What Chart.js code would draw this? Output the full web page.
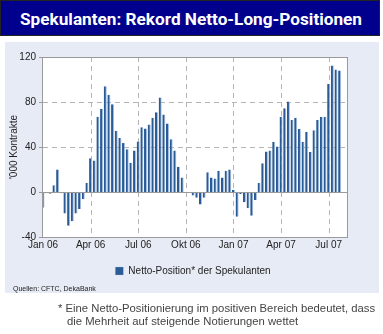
<!DOCTYPE html>
<html>
<head>
<meta charset="utf-8">
<script src="https://cdn.jsdelivr.net/npm/chart.js@4"></script>
<style>
  html, body { margin: 0; padding: 0; background: #fff; }
  #wrap { position: relative; width: 383px; height: 334px; overflow: hidden; font-family: "Liberation Sans", Arial, sans-serif; }
  #title {
    position: absolute; left: 0; top: 0; width: 380px; height: 36px;
    background: #00008c; border: 1px solid #222;
    color: #fff; font: bold 17.2px "Roboto", "Liberation Sans", sans-serif;
    line-height: 36px; padding-left: 19px; box-sizing: border-box; white-space: nowrap;
  }
  #panel { position: absolute; left: 5px; top: 42px; width: 374px; height: 251px; background: #e7ebf5; }
  #chartBox { position: absolute; left: 0; top: 0; width: 374px; height: 244px; }
  #source { position: absolute; left: 8px; top: 243px; font-size: 7px; color: #222; }
  #note {
    position: absolute; left: 58px; top: 302px; width: 325px;
    font-size: 11.3px; line-height: 13px; color: #444;
    padding-left: 9px; text-indent: -9px; white-space: nowrap;
  }
</style>
</head>
<body>
<div id="wrap">
  <div id="title">Spekulanten: Rekord Netto-Long-Positionen</div>
  <div id="panel">
    <div id="chartBox"><canvas id="chart"></canvas></div>
    <div id="source">Quellen: CFTC, DekaBank</div>
  </div>
  <div id="note">* Eine Netto-Positionierung im positiven Bereich bedeutet, dass<br>die Mehrheit auf steigende Notierungen wettet</div>
</div>
<script>
// weekly net positions, '000 contracts (Jan 06 .. Jul 07)
const netPositions = [
  -14, -1, -1.5, 6, 20, -1, -19, -30, -26, -19, -15, -6.5, 8,
  30, 28, 67, 74, 94, 86.5, 78, 54.5, 48, 43.5, 38, 26, 37,
  45, 57.5, 56.5, 60, 66, 71, 84, 69, 61, 47, 37, 22.5, 13,
  0, 0, -3, -5, -11, -5, 17.5, 13, 12, 19, 13, 19, 20,
  2, -22, -2, -9, -14.5, -21, -7, 8, 25.5, 36, 37, 44.5, 40.5,
  67, 74.5, 80.5, 64, 66, 56, 44.5, 53.5, 35.5, 55, 64, 67, 67,
  96, 112.5, 109, 108, null, null,
];

const tickLabels = ["Jan 06", "Apr 06", "Jul 06", "Okt 06", "Jan 07", "Apr 07", "Jul 07"];
const weeksPerTick = 13;
const yTicks = [-40, 0, 40, 80, 120];

const weeks = netPositions.map((v, i) =>
  i % weeksPerTick === 0 ? tickLabels[i / weeksPerTick] : "W" + i
);

const gridLines = {
  id: "gridLines",
  beforeDatasetsDraw(chart) {
    const { ctx, chartArea: a, scales } = chart;
    ctx.save();
    ctx.strokeStyle = "#b4b4b4";
    ctx.lineWidth = 1;
    ctx.setLineDash([5, 4]);
    [40, 80].forEach((v) => {
      const y = Math.round(scales.y.getPixelForValue(v)) + 0.5;
      ctx.beginPath(); ctx.moveTo(a.left, y); ctx.lineTo(a.right, y); ctx.stroke();
    });
    weeks.forEach((w, i) => {
      if (i === 0 || i % weeksPerTick !== 0) return;
      const x = Math.round(scales.x.getPixelForValue(i)) + 0.5;
      ctx.beginPath(); ctx.moveTo(x, a.top); ctx.lineTo(x, a.bottom); ctx.stroke();
    });
    ctx.restore();
  },
  afterDatasetsDraw(chart) {
    const { ctx, chartArea: a, scales } = chart;
    ctx.save();
    ctx.strokeStyle = "#9a9a9a";
    ctx.lineWidth = 1;
    const y0 = Math.round(scales.y.getPixelForValue(0)) + 0.5;
    ctx.beginPath(); ctx.moveTo(a.left, y0); ctx.lineTo(a.right, y0); ctx.stroke();
    // plot frame
    ctx.strokeRect(Math.round(a.left) - 0.5, Math.round(a.top) + 0.5,
      Math.round(a.right - a.left) + 1, Math.round(a.bottom - a.top));
    // small ticks on the value axis
    yTicks.forEach((v) => {
      const y = Math.round(scales.y.getPixelForValue(v)) + 0.5;
      ctx.beginPath(); ctx.moveTo(a.left - 4, y); ctx.lineTo(a.left, y); ctx.stroke();
    });
    ctx.restore();
  },
};

const whiteArea = {
  id: "whiteArea",
  beforeDraw(chart) {
    const { ctx, chartArea: a } = chart;
    ctx.save();
    ctx.fillStyle = "#fff";
    ctx.fillRect(a.left, a.top, a.right - a.left, a.bottom - a.top);
    ctx.restore();
  },
};

// legend sits centred under the whole panel, not under the plot
const legendShift = {
  id: "legendShift",
  afterLayout(chart) {
    chart.legend.left += 17;
    chart.legend.right += 17;
  },
};

const chartConfig = {
  type: "bar",
  data: {
    labels: weeks,
    datasets: [
      {
        label: "Netto-Position* der Spekulanten",
        data: netPositions,
        backgroundColor: "#2b5b95",
        borderColor: "#a9c4e6",
        borderWidth: { left: 0, right: 1, top: 0, bottom: 0 },
        borderSkipped: false,
        categoryPercentage: 1,
        barPercentage: 0.84,
      },
    ],
  },
  options: {
    responsive: true,
    maintainAspectRatio: false,
    animation: false,
    layout: { padding: { left: 0, right: 32, top: 15, bottom: 0 } },
    plugins: {
      tooltip: { enabled: false },
      legend: {
        position: "bottom",
        labels: {
          boxWidth: 8,
          boxHeight: 8,
          padding: 8,
          color: "#222",
          font: { family: "Liberation Sans", size: 10 },
        },
      },
    },
    scales: {
      x: {
        offset: false,
        grid: { display: false, drawTicks: false, tickLength: 0 },
        border: { display: false },
        afterFit(scale) { scale.height = 21; },
        ticks: {
          autoSkip: false,
          maxRotation: 0,
          padding: 2,
          color: "#222",
          font: { family: "Liberation Sans", size: 10 },
          callback(value, index) {
            return index % weeksPerTick === 0 ? tickLabels[index / weeksPerTick] : "";
          },
        },
      },
      y: {
        min: -40,
        max: 120,
        grid: { display: false, drawTicks: false, tickLength: 0 },
        border: { display: false },
        afterFit(scale) { scale.width = 38; },
        title: {
          display: true,
          text: "'000 Kontrakte",
          color: "#222",
          padding: { top: 3, bottom: 0 },
          font: { family: "Liberation Sans", size: 10 },
        },
        ticks: {
          stepSize: 40,
          padding: 7,
          color: "#222",
          font: { family: "Liberation Sans", size: 10 },
        },
      },
    },
  },
  plugins: [whiteArea, gridLines, legendShift],
};

window.addEventListener("DOMContentLoaded", () => {
  const ctx = document.getElementById("chart");
  new Chart(ctx, chartConfig);
});
</script>
</body>
</html>
